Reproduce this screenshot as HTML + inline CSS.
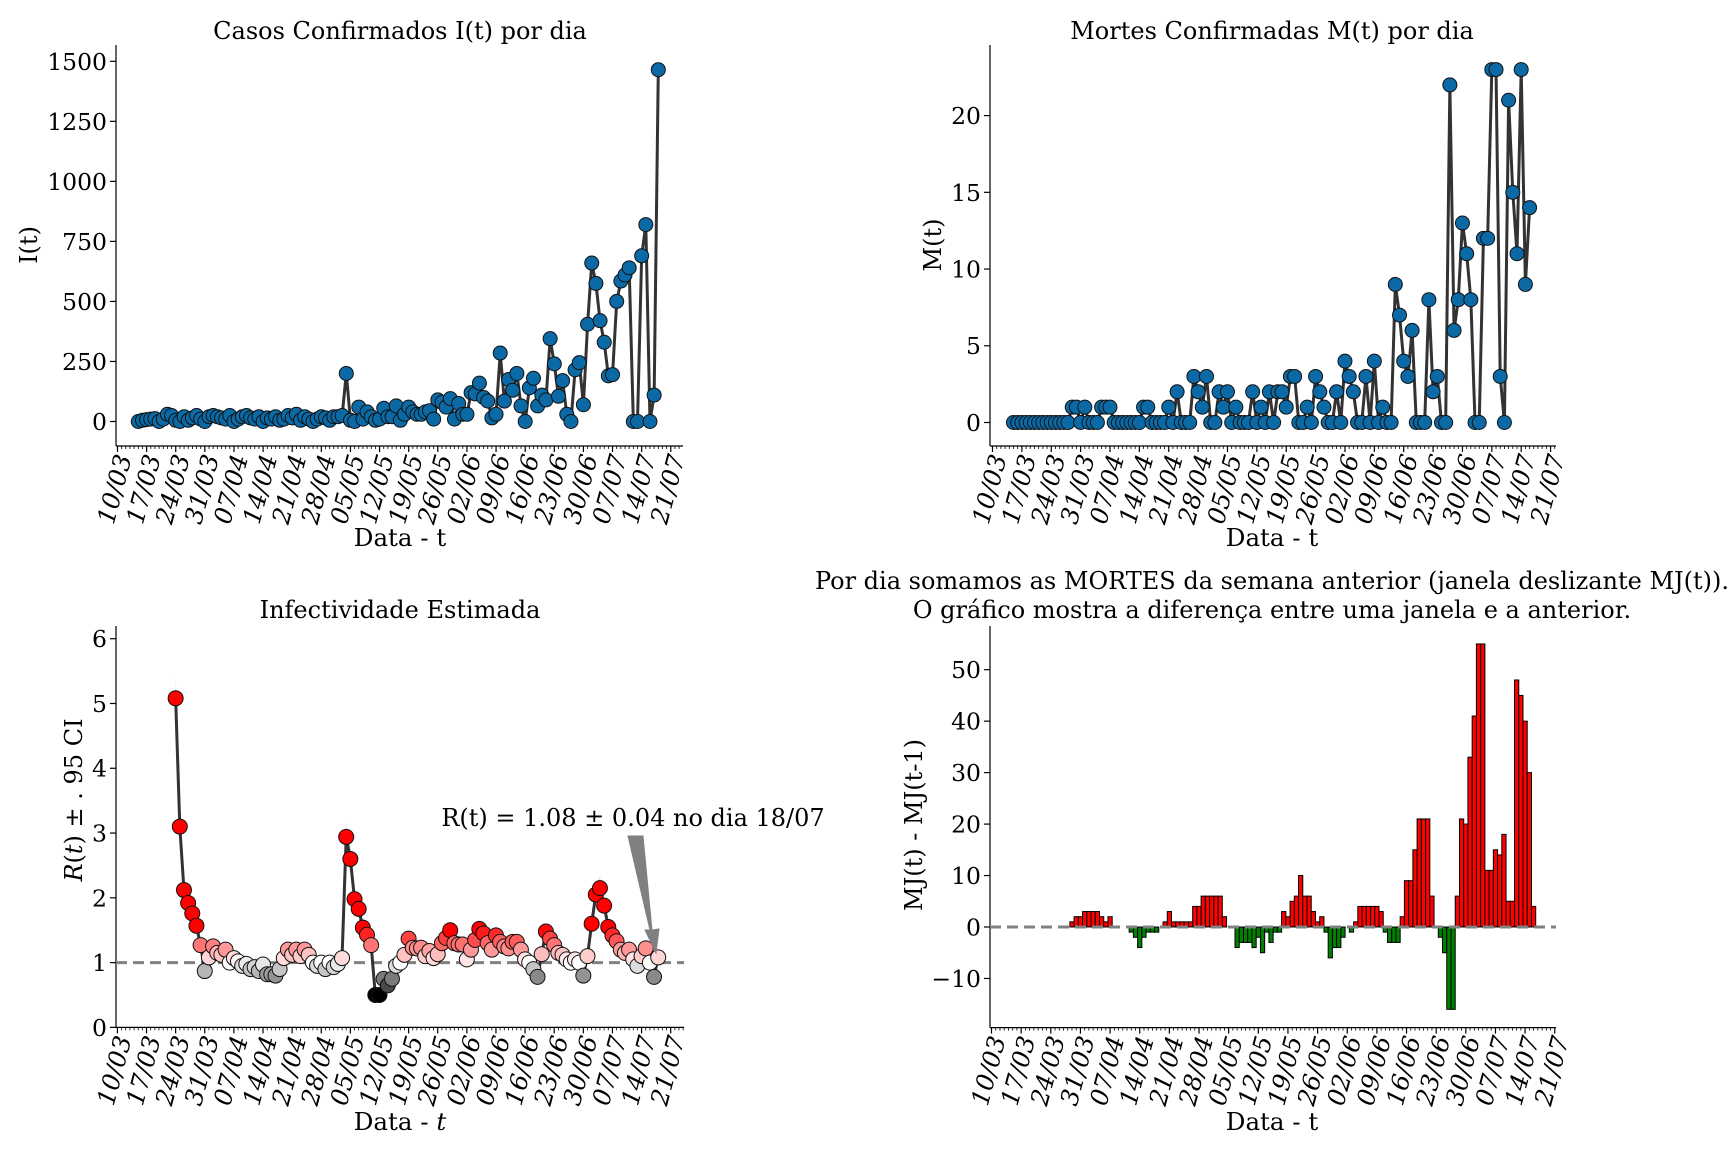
<!DOCTYPE html>
<html><head><meta charset="utf-8">
<style>
html,body{margin:0;padding:0;background:#fff;}
svg{display:block;font-family:"DejaVu Serif","Liberation Serif",serif;}
</style></head>
<body>
<svg id="fig" xmlns="http://www.w3.org/2000/svg" width="1728" height="1152" viewBox="0 0 1728 1152">
<rect width="1728" height="1152" fill="#fff"/>
</svg>
<script>
const dateLabels = ["10/03","17/03","24/03","31/03","07/04","14/04","21/04","28/04","05/05","12/05","19/05","26/05","02/06","09/06","16/06","23/06","30/06","07/07","14/07","21/07"];
const casesStartDay = 5;
const casesI = [0,5,8,10,12,0,10,30,25,5, 0,20,5,15,25,10,0,20,25,20, 15,10,25,0,10,20,25,15,10,20, 0,15,10,20,5,10,25,15,30,5, 20,10,0,10,20,15,5,20,20,25,
 200, 5,0,60,10,40,20,5,10,55,20,20,65,5,30,60,40,30,30,40,45, 10, 90,80,60,95,10,75,30,30, 120,115,160,100,85,15,30, 285, 85,175,130,200,65,0, 140,180,65,110,90,345, 240,105,170,30,0, 215,245,70, 405,660,575,420,330,190,195,500,585,610,640, 0,0,690,820,0,110,1465];
const deathsStartDay = 5;
const deathsM = [0,0,0,0,0,0,0,0,0,0,0,0,0,0, 1,1,0,1,0,0,0,1,1,1, 0,0,0,0,0,0,0, 1,1,0,0,0,0,1,0,2,0,0,0,3,2,1,3,0,0,
 2,1,2,0,1,0,0,0,2,0,1,0,2,0,2,2,1,3,3,0,0,1,0,3,2,1,0,0,2,0,4,3,2,0,0,3,0,4,0,1,0,0,9,7,4,3,6,0,0,0,8,2,3,0,0,22,6,8,13,11,8,0,0,12,12,23,23,3,0,21,15,11,23,9,14];
const rStartDay = 14;
const rValues = [5.08,3.1,2.12,1.92,1.76,1.57,1.27,0.87,1.08,1.25, 1.15,1.12,1.2,1.0,1.07,1.02,0.95,0.98,0.9,0.93, 0.87,0.97,0.82,0.82,0.8,0.9,1.07,1.2,1.12,1.2, 1.1,1.2,1.12,1.0,0.95,1.0,0.9,1.0,0.93,0.98, 1.07,2.94,2.6,1.98,1.83,1.54,1.43,1.27,0.5,0.5, 0.75,0.65,0.75,0.95,1.0,1.12,1.37,1.23,1.22,1.23, 1.1,1.18,1.07,1.13,1.3,1.38,1.5,1.3,1.28,1.28, 1.05,1.2,1.35,1.52,1.45,1.3,1.2,1.42,1.32,1.25, 1.22,1.32,1.32,1.2,1.05,1.0,0.9,0.78,1.13,1.48, 1.37,1.27,1.15,1.12,1.05,1.0,1.05,1.0,0.8,1.1,1.6,2.05,2.15,1.88,1.55,1.42,1.33,1.2,1.15,1.2,1.05,0.95,1.1,1.22,1.0,0.78,1.08];
const mjStartDay = 19;
const mjDiff = [1,2,2,3,3,3,3,2,1,2, 0,0,0,0, -1,-2,-4,-2,-1,-1,-1, 0,1,3,1,1,1,1,1,4,4,6,6,6,6,6,2, 0,0,-4,-3,-3,-3,-4,-2,-5,-1,-3,-1,-1,
 3,2,5,6,10,6,6,3,1,2, -1,-6,-4,-4,-2,0,-1,1,4,4, 4,4,4,3,-1,-3,-3,-3,2,9, 9,15,21,21,21,6,0,-2,-5,-16, -16,6,21,20,33,41,55,55,11,11, 15,14,18,5,5,48,45,40,30,4];
const ticksI = [0,250,500,750,1000,1250,1500];
const ticksM = [0,5,10,15,20];
const ticksR = [0,1,2,3,4,5,6];
const ticksMJ = [-10,0,10,20,30,40,50];

const NS = "http://www.w3.org/2000/svg";
const svg = document.getElementById('fig');
function mk(tag, attrs, parent){
  const e = document.createElementNS(NS, tag);
  for (const k in attrs) e.setAttribute(k, attrs[k]);
  (parent||svg).appendChild(e);
  return e;
}
function fmt(v){ return v<0 ? "\u2212"+Math.abs(v) : String(v); }

function drawAxes(c, name){
  const g = mk('g', {});
  
  
  c.xs = d => c.x0 + d*c.pd;
  c.ys = v => c.yZero - v*c.pu;
  const sl = mk('line', {x1:c.left, y1:c.top, x2:c.left, y2:c.bottom, stroke:'#000','stroke-width':1.2}, g);
  
  
  const sb = mk('line', {x1:c.left, y1:c.bottom, x2:c.right, y2:c.bottom, stroke:'#000','stroke-width':1.2}, g);
  
  
  for (let d=0; d<=136; d++){
    const x = c.xs(d);
    if (x > c.right) break;
    const major = d%7===0;
    mk('line', {x1:x, y1:c.bottom, x2:x, y2:c.bottom+(major?6:3), stroke:'#000','stroke-width':major?1.2:0.8}, g);
  }
  dateLabels.forEach((lab,i)=>{
    const x = c.xs(i*7);
    const t = mk('text', {transform:`translate(${x+6},${c.bottom+9}) rotate(-75)`, 'text-anchor':'end', dy:'0.35em', 'font-size':24.5, 'font-style':'italic', fill:'#000'}, g);
    t.textContent = lab;
    
    
  });
  c.yticks.forEach(v=>{
    const y = c.ys(v);
    mk('line', {x1:c.left-6, y1:y, x2:c.left, y2:y, stroke:'#000','stroke-width':1.2}, g);
    const t = mk('text', {x:c.left-9, y:y, dy:'0.36em', 'text-anchor':'end', 'font-size':23.5, fill:'#000'}, g);
    t.textContent = fmt(v);
    
    
  });
  return g;
}
function text(str, x, y, size, name, extra){
  const t = mk('text', Object.assign({x:x, y:y, 'text-anchor':'middle', 'font-size':size, fill:'#000'}, extra||{}));
  t.textContent = str;
  
  
  return t;
}

// ---------- Panel 1: cases ----------
const p1 = {x0:117.5, pd:4.16, yZero:421.5, pu:(421.5-61.3)/1500, left:116, right:683, top:45, bottom:446, yticks:ticksI};
const g1 = drawAxes(p1, 'cases-chart');
text('Casos Confirmados I(t) por dia', 400, 39, 24, 'cases-title');
text('I(t)', 0, 0, 24, 'cases-y-axis-title', {transform:'translate(37,245) rotate(-90)'});
text('Data - t', 400, 546, 24.5, 'cases-x-axis-title');
mk('polyline', {points: casesI.map((v,i)=>p1.xs(casesStartDay+i)+','+p1.ys(v)).join(' '), fill:'none', stroke:'#333','stroke-width':3,'stroke-linejoin':'round'}, g1);
casesI.forEach((v,i)=>{
  const c = mk('circle', {cx:p1.xs(casesStartDay+i), cy:p1.ys(v), r:7, fill:'#0b6aa6', stroke:'#111','stroke-width':1}, g1);
  
  
});

// ---------- Panel 2: deaths ----------
const p2 = {x0:992.5, pd:4.196, yZero:422.5, pu:(422.5-115.6)/20, left:990, right:1556, top:45, bottom:446, yticks:ticksM};
const g2 = drawAxes(p2, 'deaths-chart');
text('Mortes Confirmadas M(t) por dia', 1272, 39, 24, 'deaths-title');
text('M(t)', 0, 0, 24, 'deaths-y-axis-title', {transform:'translate(941,245) rotate(-90)'});
text('Data - t', 1272, 546, 24.5, 'deaths-x-axis-title');
mk('polyline', {points: deathsM.map((v,i)=>p2.xs(deathsStartDay+i)+','+p2.ys(v)).join(' '), fill:'none', stroke:'#333','stroke-width':3,'stroke-linejoin':'round'}, g2);
deathsM.forEach((v,i)=>{
  const c = mk('circle', {cx:p2.xs(deathsStartDay+i), cy:p2.ys(v), r:7, fill:'#0b6aa6', stroke:'#111','stroke-width':1}, g2);
  
  
});

// ---------- Panel 3: R(t) ----------
const p3 = {x0:117.4, pd:4.16, yZero:1027.4, pu:(1027.4-638.7)/6, left:116, right:684, top:626, bottom:1027.4, yticks:ticksR};
const g3 = drawAxes(p3, 'r-chart');
text('Infectividade Estimada', 400, 618, 24, 'r-title');
const yl = text('', 0, 0, 24, 'r-y-axis-title', {transform:'translate(82,800) rotate(-90)'});
yl.innerHTML = '<tspan font-style="italic">R</tspan>(<tspan font-style="italic">t</tspan>) ± . 95 CI';
const xl3 = text('', 400, 1130, 24.5, 'r-x-axis-title');
xl3.innerHTML = 'Data - <tspan font-style="italic">t</tspan>';
const up = rValues.map((v,i)=>p3.xs(rStartDay+i)+','+p3.ys(v*1.07+0.03));
const lo = rValues.map((v,i)=>p3.xs(rStartDay+i)+','+p3.ys(v*0.93-0.03)).reverse();
const band = mk('polygon', {points: up.concat(lo).join(' '), fill:'#e6e6e6'}, g3);


const ref = mk('line', {x1:116, y1:p3.ys(1), x2:684, y2:p3.ys(1), stroke:'#808080','stroke-width':3,'stroke-dasharray':'11,6'}, g3);


mk('polyline', {points: rValues.map((v,i)=>p3.xs(rStartDay+i)+','+p3.ys(v)).join(' '), fill:'none', stroke:'#333','stroke-width':3,'stroke-linejoin':'round'}, g3);
function rColor(v){
  if (v >= 1){ const t=Math.min(1,(v-1)/0.5); const c=Math.round(255*(1-t)); return `rgb(255,${c},${c})`; }
  const t=Math.min(1,(1-v)/0.5); const c=Math.round(245*(1-t)); return `rgb(${c},${c},${c})`;
}
rValues.forEach((v,i)=>{
  const c = mk('circle', {cx:p3.xs(rStartDay+i), cy:p3.ys(v), r:7.5, fill:rColor(v), stroke:'#111','stroke-width':1}, g3);
  
  
});
text('R(t) = 1.08 ± 0.04 no dia 18/07', 633, 826, 24, 'r-annotation');
const arr = mk('polygon', {points:'628,836 643,836 652,930 659,929 656,953 645,930 650,930', fill:'#808080', stroke:'#808080','stroke-width':1}, g3);



// ---------- Panel 4: MJ diff ----------
const p4 = {x0:991.5, pd:4.235, yZero:927, pu:(927-669.7)/50, left:990, right:1556, top:626, bottom:1027.6, yticks:ticksMJ};
const g4 = drawAxes(p4, 'mj-chart');
text('Por dia somamos as MORTES da semana anterior (janela deslizante MJ(t)).', 1272, 589, 24, 'mj-title-line1');
text('O gráfico mostra a diferença entre uma janela e a anterior.', 1272, 618, 24, 'mj-title-line2');
text('MJ(t) - MJ(t-1)', 0, 0, 24, 'mj-y-axis-title', {transform:'translate(922,825) rotate(-90)'});
text('Data - t', 1272, 1130, 24.5, 'mj-x-axis-title');
mjDiff.forEach((v,i)=>{
  if (v===0) return;
  const x = p4.xs(mjStartDay+i) - p4.pd/2;
  const y = Math.min(p4.ys(v), p4.ys(0));
  const b = mk('rect', {x:x, y:y, width:p4.pd, height:Math.abs(v)*p4.pu, fill: v>0?'#ff0000':'#008000', stroke:'#000','stroke-width':1}, g4);
  
  
});
const z4 = mk('line', {x1:990, y1:p4.ys(0), x2:1556, y2:p4.ys(0), stroke:'#808080','stroke-width':3,'stroke-dasharray':'11,6'}, g4);


</script>
</body></html>
